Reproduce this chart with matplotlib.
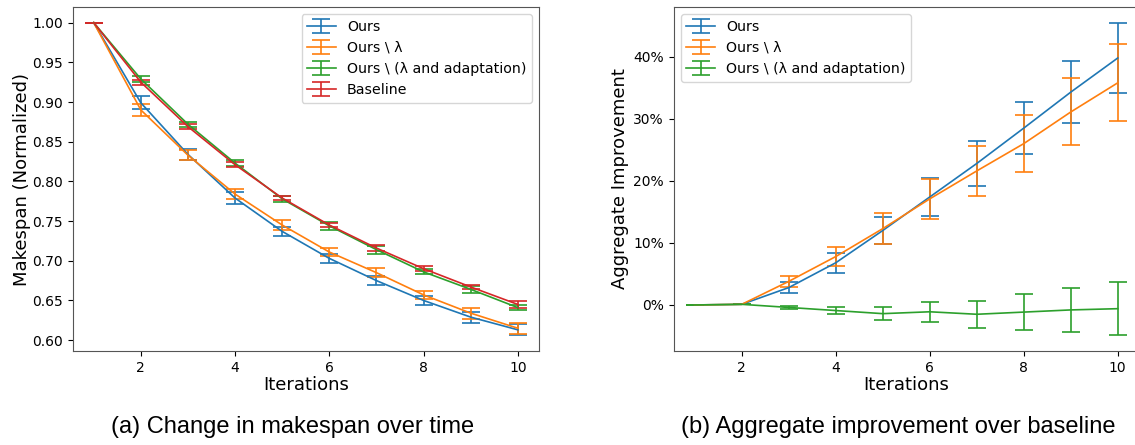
import matplotlib
matplotlib.use("Agg")
import matplotlib.pyplot as plt
from matplotlib.ticker import PercentFormatter

iterations = [1, 2, 3, 4, 5, 6, 7, 8, 9, 10]

# (a) Makespan (normalized)
ms_ours = [1.000, 0.899, 0.834, 0.779, 0.737, 0.703, 0.675, 0.650, 0.629, 0.613]
ms_ours_err = [0.0, 0.008, 0.007, 0.007, 0.006, 0.006, 0.006, 0.006, 0.007, 0.007]
ms_nolam = [1.000, 0.890, 0.833, 0.784, 0.745, 0.711, 0.685, 0.657, 0.634, 0.615]
ms_nolam_err = [0.0, 0.008, 0.006, 0.006, 0.006, 0.005, 0.006, 0.005, 0.007, 0.007]
ms_noadapt = [1.000, 0.929, 0.872, 0.823, 0.778, 0.744, 0.714, 0.686, 0.664, 0.641]
ms_noadapt_err = [0.0, 0.004, 0.003, 0.004, 0.004, 0.005, 0.005, 0.003, 0.004, 0.003]
ms_base = [1.000, 0.925, 0.869, 0.821, 0.779, 0.745, 0.716, 0.690, 0.667, 0.645]
ms_base_err = [0.0, 0.003, 0.003, 0.003, 0.003, 0.003, 0.004, 0.003, 0.003, 0.004]

# (b) Aggregate improvement over baseline (%)
imp_ours = [0.0, 0.1, 2.8, 6.8, 12.0, 17.4, 22.8, 28.5, 34.3, 39.8]
imp_ours_err = [0.0, 0.0, 0.9, 1.6, 2.2, 3.0, 3.6, 4.2, 5.0, 5.7]
imp_nolam = [0.0, 0.1, 3.8, 7.8, 12.3, 17.1, 21.6, 26.0, 31.1, 35.8]
imp_nolam_err = [0.0, 0.0, 0.9, 1.6, 2.5, 3.2, 4.0, 4.6, 5.4, 6.2]
imp_noadapt = [0.0, 0.1, -0.4, -0.9, -1.4, -1.1, -1.5, -1.15, -0.8, -0.6]
imp_noadapt_err = [0.0, 0.0, 0.3, 0.6, 1.05, 1.6, 2.2, 2.85, 3.6, 4.3]

labels = ["Ours", "Ours \\ λ", "Ours \\ (λ and adaptation)", "Baseline"]
colors = ["#1f77b4", "#ff7f0e", "#2ca02c", "#d62728"]

plt.rcParams["font.family"] = ["DejaVu Sans"]
W, H = 1135, 445
fig = plt.figure(figsize=(W / 100, H / 100), dpi=100)

ax1 = fig.add_axes([72.5 / W, (H - 351) / H, 466.5 / W, 344 / H])
ax2 = fig.add_axes([673.6 / W, (H - 351) / H, 465.3 / W, 344 / H])

cap = 6.5
lw = 1.2
series_a = [(ms_ours, ms_ours_err), (ms_nolam, ms_nolam_err),
            (ms_noadapt, ms_noadapt_err), (ms_base, ms_base_err)]
for (v, e), lab, c in zip(series_a, labels, colors):
    ax1.errorbar(iterations, v, yerr=e, label=lab, color=c, capsize=cap,
                 lw=lw, elinewidth=lw, capthick=lw)

series_b = [(imp_ours, imp_ours_err), (imp_nolam, imp_nolam_err),
            (imp_noadapt, imp_noadapt_err)]
for (v, e), lab, c in zip(series_b, labels[:3], colors[:3]):
    ax2.errorbar(iterations, v, yerr=e, label=lab, color=c, capsize=cap,
                 lw=lw, elinewidth=lw, capthick=lw)

ax1.set_xticks([2, 4, 6, 8, 10])
ax2.set_xticks([2, 4, 6, 8, 10])
ax1.set_yticks([0.60, 0.65, 0.70, 0.75, 0.80, 0.85, 0.90, 0.95, 1.00])
ax2.set_yticks([0, 10, 20, 30, 40])
ax2.yaxis.set_major_formatter(PercentFormatter(100, decimals=0))

for ax in (ax1, ax2):
    ax.tick_params(labelsize=10)
    ax.set_xlabel("Iterations", fontsize=13, labelpad=1)
    for s in ax.spines.values():
        s.set_color("#555555")

ax1.set_ylabel("Makespan (Normalized)", fontsize=13, labelpad=1)
ax2.set_ylabel("Aggregate Improvement", fontsize=13, labelpad=3)

ax1.legend(loc="upper right", fontsize=10.2)
ax2.legend(loc="upper left", fontsize=10.2)

cap_font = ["Liberation Sans", "DejaVu Sans"]
fig.text(293 / W, (H - 427) / H, "(a) Change in makespan over time",
         ha="center", va="center", fontsize=17, family=cap_font)
fig.text(898 / W, (H - 427) / H, "(b) Aggregate improvement over baseline",
         ha="center", va="center", fontsize=17, family=cap_font)

fig.savefig("out.png", dpi=100)
